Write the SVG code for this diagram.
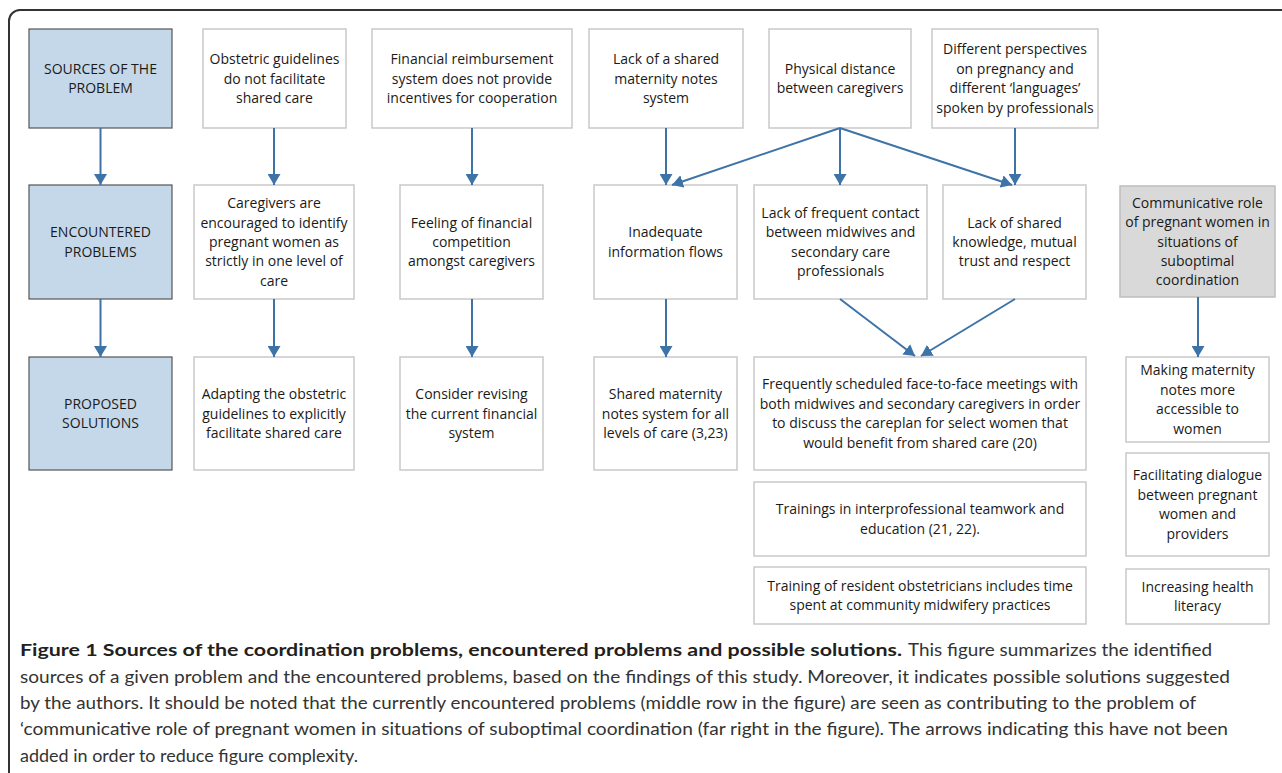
<svg xmlns="http://www.w3.org/2000/svg" width="1282" height="773" viewBox="0 0 1282 773">
<defs>
<marker id="ah" viewBox="0 0 11 13" refX="11" refY="6.5" markerWidth="11" markerHeight="13" markerUnits="userSpaceOnUse" orient="auto">
<path d="M0,0 L11,6.5 L0,13 z" fill="#3e73a8"/>
</marker>
<style>
.frame{fill:#fff;stroke:#333;stroke-width:2}
.hdr{fill:#c5d8e9;stroke:#555;stroke-width:1.2}
.box{fill:#fff;stroke:#c9c9c9;stroke-width:1.5}
.grey{fill:#d9d9d9;stroke:#bdbdbd;stroke-width:1.5}
.t{font-family:"Open Sans","Liberation Sans",sans-serif;font-size:14px;fill:#1a1a1a;text-anchor:middle}
.c{stroke:#3e73a8;stroke-width:2;fill:none;marker-end:url(#ah)}
.cap{font-family:Lato,"Liberation Sans",sans-serif;font-size:17.5px;fill:#333}
.capb{font-weight:bold;fill:#231f20}
</style>
</defs>
<rect class="frame" x="9" y="10" width="1320" height="820" rx="11"/>

<g id="n-sources"><rect class="hdr" x="29" y="29" width="143" height="99"/><text class="t"><tspan x="100.5" y="73.8">SOURCES OF THE</tspan><tspan x="100.5" y="93.2">PROBLEM</tspan></text></g>
<g id="n-encountered"><rect class="hdr" x="29" y="185" width="143" height="114"/><text class="t"><tspan x="100.5" y="237.3">ENCOUNTERED</tspan><tspan x="100.5" y="256.7">PROBLEMS</tspan></text></g>
<g id="n-proposed"><rect class="hdr" x="29" y="357" width="143" height="113"/><text class="t"><tspan x="100.5" y="408.8">PROPOSED</tspan><tspan x="100.5" y="428.2">SOLUTIONS</tspan></text></g>

<g id="n-obstetric"><rect class="box" x="203" y="29" width="143" height="99"/><text class="t"><tspan x="274.5" y="64.1">Obstetric guidelines</tspan><tspan x="274.5" y="83.5">do not facilitate</tspan><tspan x="274.5" y="102.9">shared care</tspan></text></g>
<g id="n-financial"><rect class="box" x="372" y="29" width="200" height="99"/><text class="t"><tspan x="472" y="64.1">Financial reimbursement</tspan><tspan x="472" y="83.5">system does not provide</tspan><tspan x="472" y="102.9">incentives for cooperation</tspan></text></g>
<g id="n-lacknotes"><rect class="box" x="589" y="29" width="154" height="99"/><text class="t"><tspan x="666" y="64.1">Lack of a shared</tspan><tspan x="666" y="83.5">maternity notes</tspan><tspan x="666" y="102.9">system</tspan></text></g>
<g id="n-distance"><rect class="box" x="769" y="29" width="142" height="99"/><text class="t"><tspan x="840" y="73.8">Physical distance</tspan><tspan x="840" y="93.2">between caregivers</tspan></text></g>
<g id="n-perspectives"><rect class="box" x="932" y="29" width="166" height="99"/><text class="t"><tspan x="1015" y="54.4">Different perspectives</tspan><tspan x="1015" y="73.8">on pregnancy and</tspan><tspan x="1015" y="93.2">different ‘languages’</tspan><tspan x="1015" y="112.6">spoken by professionals</tspan></text></g>

<g id="n-caregivers"><rect class="box" x="194" y="185" width="160" height="114"/><text class="t"><tspan x="274" y="208.2">Caregivers are</tspan><tspan x="274" y="227.6">encouraged to identify</tspan><tspan x="274" y="247">pregnant women as</tspan><tspan x="274" y="266.4">strictly in one level of</tspan><tspan x="274" y="285.8">care</tspan></text></g>
<g id="n-competition"><rect class="box" x="400" y="185" width="143" height="114"/><text class="t"><tspan x="471.5" y="227.6">Feeling of financial</tspan><tspan x="471.5" y="247">competition</tspan><tspan x="471.5" y="266.4">amongst caregivers</tspan></text></g>
<g id="n-inadequate"><rect class="box" x="594" y="185" width="143" height="114"/><text class="t"><tspan x="665.5" y="237.3">Inadequate</tspan><tspan x="665.5" y="256.7">information flows</tspan></text></g>
<g id="n-contact"><rect class="box" x="754" y="185" width="173" height="114"/><text class="t"><tspan x="840.5" y="217.9">Lack of frequent contact</tspan><tspan x="840.5" y="237.3">between midwives and</tspan><tspan x="840.5" y="256.7">secondary care</tspan><tspan x="840.5" y="276.1">professionals</tspan></text></g>
<g id="n-knowledge"><rect class="box" x="943" y="185" width="143" height="114"/><text class="t"><tspan x="1014.5" y="227.6">Lack of shared</tspan><tspan x="1014.5" y="247">knowledge, mutual</tspan><tspan x="1014.5" y="266.4">trust and respect</tspan></text></g>
<g id="n-communicative"><rect class="grey" x="1120" y="186" width="155" height="111"/><text class="t"><tspan x="1197.5" y="207.7">Communicative role</tspan><tspan x="1197.5" y="227.1">of pregnant women in</tspan><tspan x="1197.5" y="246.5">situations of</tspan><tspan x="1197.5" y="265.9">suboptimal</tspan><tspan x="1197.5" y="285.3">coordination</tspan></text></g>

<g id="n-adapting"><rect class="box" x="194" y="357" width="160" height="113"/><text class="t"><tspan x="274" y="399.1">Adapting the obstetric</tspan><tspan x="274" y="418.5">guidelines to explicitly</tspan><tspan x="274" y="437.9">facilitate shared care</tspan></text></g>
<g id="n-revising"><rect class="box" x="400" y="357" width="143" height="113"/><text class="t"><tspan x="471.5" y="399.1">Consider revising</tspan><tspan x="471.5" y="418.5">the current financial</tspan><tspan x="471.5" y="437.9">system</tspan></text></g>
<g id="n-sharednotes"><rect class="box" x="594" y="357" width="143" height="113"/><text class="t"><tspan x="665.5" y="399.1">Shared maternity</tspan><tspan x="665.5" y="418.5">notes system for all</tspan><tspan x="665.5" y="437.9">levels of care (3,23)</tspan></text></g>
<g id="n-meetings"><rect class="box" x="754" y="357" width="332" height="113"/><text class="t"><tspan x="920" y="389.4">Frequently scheduled face-to-face meetings with</tspan><tspan x="920" y="408.8">both midwives and secondary caregivers in order</tspan><tspan x="920" y="428.2">to discuss the careplan for select women that</tspan><tspan x="920" y="447.6">would benefit from shared care (20)</tspan></text></g>
<g id="n-trainings"><rect class="box" x="754" y="482" width="332" height="74"/><text class="t"><tspan x="920" y="514.3">Trainings in interprofessional teamwork and</tspan><tspan x="920" y="533.7">education (21, 22).</tspan></text></g>
<g id="n-resident"><rect class="box" x="754" y="567" width="332" height="57"/><text class="t"><tspan x="920" y="590.8">Training of resident obstetricians includes time</tspan><tspan x="920" y="610.2">spent at community midwifery practices</tspan></text></g>
<g id="n-accessible"><rect class="box" x="1126" y="357" width="143" height="85"/><text class="t"><tspan x="1197.5" y="375.4">Making maternity</tspan><tspan x="1197.5" y="394.8">notes more</tspan><tspan x="1197.5" y="414.2">accessible to</tspan><tspan x="1197.5" y="433.6">women</tspan></text></g>
<g id="n-dialogue"><rect class="box" x="1126" y="453" width="143" height="103"/><text class="t"><tspan x="1197.5" y="480.4">Facilitating dialogue</tspan><tspan x="1197.5" y="499.8">between pregnant</tspan><tspan x="1197.5" y="519.2">women and</tspan><tspan x="1197.5" y="538.6">providers</tspan></text></g>
<g id="n-literacy"><rect class="box" x="1126" y="569" width="143" height="55"/><text class="t"><tspan x="1197.5" y="591.8">Increasing health</tspan><tspan x="1197.5" y="611.2">literacy</tspan></text></g>

<g id="connectors">
<line class="c" x1="100.5" y1="128" x2="100.5" y2="185"/>
<line class="c" x1="100.5" y1="299" x2="100.5" y2="357"/>
<line class="c" x1="274" y1="128" x2="274" y2="185"/>
<line class="c" x1="274" y1="299" x2="274" y2="357"/>
<line class="c" x1="472" y1="128" x2="472" y2="185"/>
<line class="c" x1="472" y1="299" x2="472" y2="357"/>
<line class="c" x1="666" y1="128" x2="666" y2="185"/>
<line class="c" x1="840" y1="128" x2="672" y2="185"/>
<line class="c" x1="840" y1="128" x2="840" y2="185"/>
<line class="c" x1="840" y1="128" x2="1012" y2="185"/>
<line class="c" x1="1015" y1="128" x2="1015" y2="185"/>
<line class="c" x1="666" y1="299" x2="666" y2="357"/>
<line class="c" x1="840" y1="299" x2="915" y2="356"/>
<line class="c" x1="1015" y1="299" x2="921" y2="356"/>
<line class="c" x1="1198" y1="297" x2="1198" y2="357"/>
</g>

<g id="caption">
<text class="cap capb" x="20" y="656" font-size="18.5" textLength="882" lengthAdjust="spacingAndGlyphs">Figure 1 Sources of the coordination problems, encountered problems and possible solutions.</text>
<text class="cap" x="908" y="656" textLength="304" lengthAdjust="spacingAndGlyphs">This figure summarizes the identified</text>
<text class="cap" x="20" y="683" textLength="1210" lengthAdjust="spacingAndGlyphs">sources of a given problem and the encountered problems, based on the findings of this study. Moreover, it indicates possible solutions suggested</text>
<text class="cap" x="20" y="709" textLength="1176" lengthAdjust="spacingAndGlyphs">by the authors. It should be noted that the currently encountered problems (middle row in the figure) are seen as contributing to the problem of</text>
<text class="cap" x="20" y="735" textLength="1208" lengthAdjust="spacingAndGlyphs">‘communicative role of pregnant women in situations of suboptimal coordination (far right in the figure). The arrows indicating this have not been</text>
<text class="cap" x="20" y="762" textLength="338" lengthAdjust="spacingAndGlyphs">added in order to reduce figure complexity.</text>
</g>
</svg>
